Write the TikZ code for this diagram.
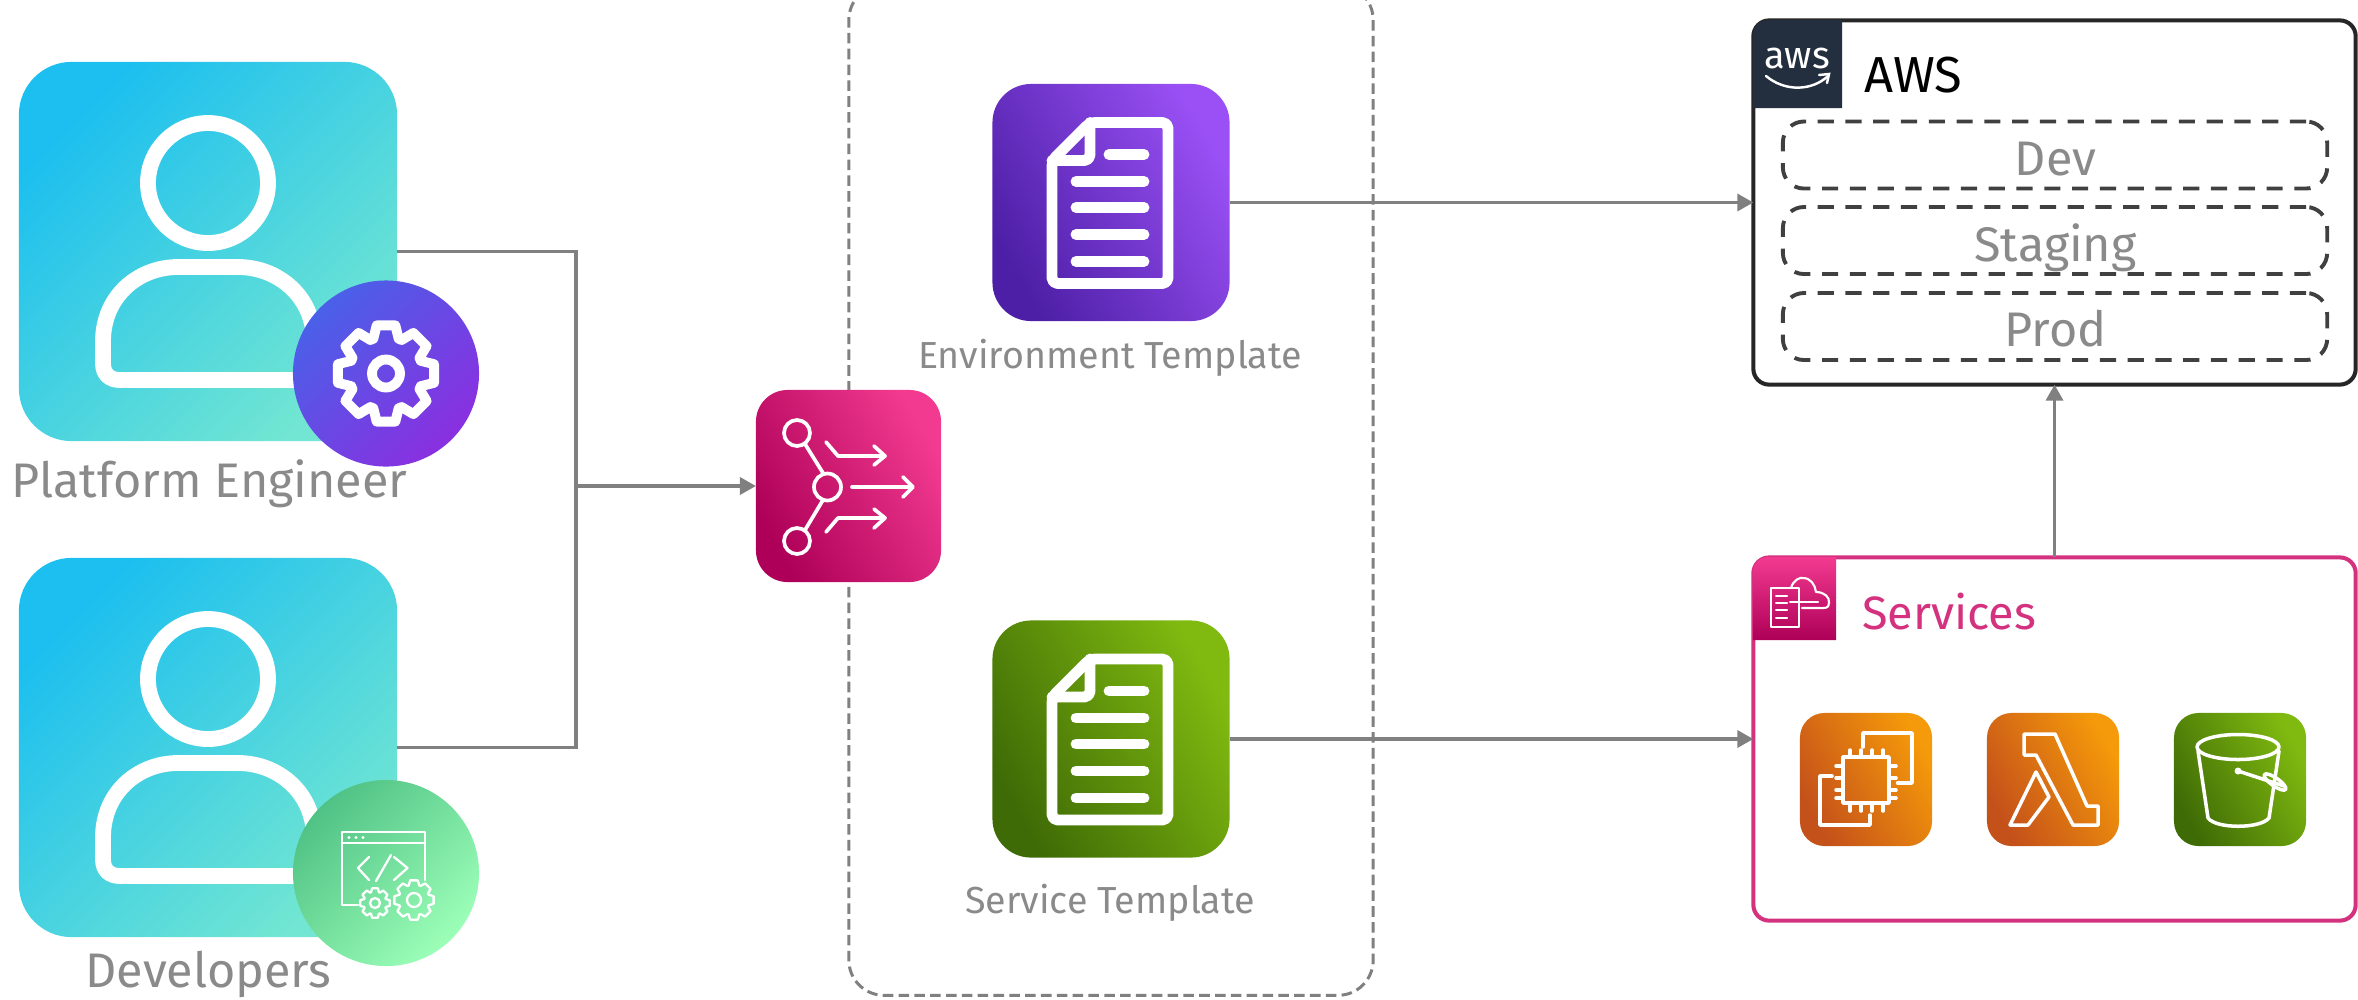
\documentclass[tikz,border=0pt]{standalone}
\usepackage{fontspec}
\setmainfont{Fira Sans}
\usetikzlibrary{arrows.meta}
\definecolor{linegray}{HTML}{808080}
\definecolor{textgray}{HTML}{8A8A8A}
\definecolor{awsdark}{HTML}{232F3E}
\definecolor{svcpink}{HTML}{D4317F}
\definecolor{tealhi}{HTML}{1CBFEF}
\definecolor{teallo}{HTML}{72E6D2}
\definecolor{purplelo}{HTML}{4D1FA6}
\definecolor{purplehi}{HTML}{9A50F5}
\definecolor{pinklo}{HTML}{AE0058}
\definecolor{pinkhi}{HTML}{F23A90}
\definecolor{greenlo}{HTML}{3F6B06}
\definecolor{greenhi}{HTML}{80BA10}
\definecolor{orangelo}{HTML}{C4501A}
\definecolor{orangehi}{HTML}{F59A0A}
\definecolor{gearlo}{HTML}{8A2FE0}
\definecolor{gearhi}{HTML}{4A60E8}
\definecolor{codelo}{HTML}{9CFFB8}
\definecolor{codehi}{HTML}{50C285}
\tikzset{
  conn/.style={draw=linegray,line width=1pt},
  arrowconn/.style={conn,-{Triangle[length=1.6mm,width=1.7mm]}},
  tile/.style 2 args={rectangle,inner sep=0pt,outer sep=0pt,top color=#1,bottom color=#2,shading angle=120},
  bigtile/.style 2 args={tile={#1}{#2},rounded corners=11pt,minimum width=2.37cm,minimum height=2.37cm},
  smalltile/.style 2 args={tile={#1}{#2},rounded corners=7pt,minimum width=1.32cm,minimum height=1.33cm},
  persontile/.style={rectangle,inner sep=0pt,outer sep=0pt,rounded corners=15pt,minimum width=3.78cm,minimum height=3.79cm,top color=tealhi,bottom color=teallo,shading angle=45},
  badge/.style 2 args={circle,inner sep=0pt,outer sep=0pt,minimum size=1.86cm,top color=#1,bottom color=#2,shading angle=45},
  biglbl/.style={font=\fontsize{13.8pt}{15pt}\selectfont,text=textgray,anchor=base,inner sep=0pt},
  tpllbl/.style={font=\fontsize{10.7pt}{12pt}\selectfont,text=textgray,anchor=base,inner sep=0pt},
  iconline/.style={draw=white,line width=#1,line cap=round,line join=round},
  iconline/.default=1pt,
  envbox/.style={draw=black!75,line width=1.1pt,dash pattern=on 4.6pt off 3.3pt,rounded corners=6pt,inner sep=0pt,minimum width=5.44cm,minimum height=0.67cm},
  groupbox/.style={rectangle,line width=1.15pt,rounded corners=4.5pt,inner sep=0pt,outer sep=0pt,minimum width=6.02cm}
}
\newcommand{\personicon}[1]{\begin{scope}[shift={(#1)}]
\draw[iconline=4.5pt] (0,-68.5) circle (60);
\draw[iconline=4.5pt] (106,128.5) -- (-88,128.5) .. controls (-99,128.5) and (-105,122) .. (-105,112) -- (-105,90) .. controls (-105,45) and (-70,15.5) .. (-30,15.5) -- (30,15.5) .. controls (70,15.5) and (106,45) .. (106,90) -- cycle;
\end{scope}}
\newcommand{\docicon}[1]{\begin{scope}[shift={(#1)},iconline=3.1pt]
\draw[rounded corners=1.6pt] (-59,-42) -- (-21,-80) -- (57,-80) -- (57,81) -- (-59,81) -- cycle;
\draw[rounded corners=1.6pt] (-21,-80) -- (-21,-42) -- (-59,-42);
\draw (-2,-48) -- (33,-48);
\foreach \ly in {-21,5,32,59} {\draw (-35,\ly) -- (33,\ly);}
\end{scope}}
\newcommand{\gearicon}[4]{\begin{scope}[shift={(#1)},iconline=#4]
\draw (-20:#3) \foreach \a in {0,45,...,315} { -- ({\a-20}:#3) -- ({\a-11}:#2) -- ({\a+11}:#2) -- ({\a+20}:#3)} -- cycle;
\end{scope}}
\begin{document}
\begin{tikzpicture}[x=0.01cm,y=-0.01cm,>=Stealth]
\path[use as bounding box,clip] (0,0) rectangle (2358,999);
% template group
\node[draw=linegray,line width=0.85pt,dash pattern=on 3pt off 1.5pt,rounded corners=10pt,minimum width=5.24cm,minimum height=10.1cm,inner sep=0pt] (tplgroup) at (1111,490) {};
% people
\node[persontile] (engineer) at (208,251.5) {};
\node[persontile] (developers) at (208,747.5) {};
\personicon{engineer}
\personicon{developers}
\node[biglbl] (englbl) at (209.5,497) {Platform Engineer};
\node[biglbl] (devlbl) at (208.5,987) {Developers};
% router and templates
\node[tile={pinklo}{pinkhi},rounded corners=9pt,minimum width=1.85cm,minimum height=1.92cm] (router) at (848.5,486) {};
\node[bigtile={purplelo}{purplehi}] (envtpl) at (1111,202.5) {};
\node[bigtile={greenlo}{greenhi}] (svctpl) at (1111,739) {};
\docicon{envtpl}
\docicon{svctpl}
\node[tpllbl] (envlbl) at (1110,368.5) {Environment Template};
\node[tpllbl] (svclbl) at (1110,913) {Service Template};
% aws and services
\node[groupbox,draw=black!85,fill=white,minimum height=3.64cm] (aws) at (2054.5,202.5) {};
\node[groupbox,draw=svcpink,fill=white,minimum height=3.63cm] (services) at (2054.5,739) {};
\fill[awsdark] (1842,108) -- (1753,108) -- (1753,36) .. controls (1753,26) and (1759,20) .. (1769,20) -- (1842,20) -- cycle;
\shade[top color=pinkhi,bottom color=pinklo] (1836,640) -- (1753,640) -- (1753,573) .. controls (1753,563) and (1759,557) .. (1769,557) -- (1836,557) -- cycle;
\node[font=\fontsize{14.4pt}{16pt}\selectfont,text=black,anchor=base,inner sep=0pt] (awslbl) at (1913,92) {AWS};
\node[font=\fontsize{13.3pt}{15pt}\selectfont,text=svcpink,anchor=base,inner sep=0pt] (svcname) at (1949,629) {Services};
\node[font=\fontsize{10.8pt}{12pt}\selectfont,text=white,anchor=base,inner sep=0pt] (awslogo) at (1797,68) {aws};
\draw[white,line width=0.7pt,line cap=round] (1766,76) .. controls (1785,92) and (1812,91) .. (1828,76);
\draw[white,line width=0.7pt,line cap=round] (1819,75) -- (1829,74) -- (1827,83);
\foreach \ename/\ey/\etext/\ebase in {devbox/155/Dev/175,stgbox/240.5/Staging/261,prodbox/326.5/Prod/346} {
  \node[envbox] (\ename) at (2055,\ey) {};
  \node[biglbl] (\ename lbl) at (2055.5,\ebase) {\etext};
}
% service tiles
\node[smalltile={orangelo}{orangehi}] (ec2) at (1866,779.5) {};
\node[smalltile={orangelo}{orangehi}] (lambda) at (2053,779.5) {};
\node[smalltile={greenlo}{greenhi}] (bucket) at (2240,779.5) {};
% connectors
\coordinate (junc) at (576,486);
\draw[conn] (engineer.east) -| (junc);
\draw[conn] (developers.east) -| (junc);
\draw[arrowconn] (junc) -- (router.west);
\draw[arrowconn] (envtpl.east) -- (aws.west);
\draw[arrowconn] (svctpl.east) -- (services.west);
\draw[arrowconn] (services.north) -- (aws.south);
% badges
\node[badge={gearhi}{gearlo}] (gearbadge) at (386,373.5) {};
\node[badge={codehi}{codelo}] (codebadge) at (386,873) {};
\gearicon{gearbadge}{49}{37}{2.8pt}
\draw[iconline=2.8pt] (gearbadge) circle (14);
\draw[iconline=0.65pt] (358,905) -- (342,905) -- (342,832) -- (425,832) -- (425,880);
\draw[iconline=0.65pt] (342,843) -- (425,843);
\foreach \dx in {349,356,363} {\fill[white] (\dx,837.5) circle (1.6);}
\draw[iconline=0.65pt] (369,857) -- (358,868) -- (369,880);
\draw[iconline=0.65pt] (394,857) -- (407.5,868) -- (394,880);
\draw[iconline=0.65pt] (391,855) -- (376,881);
\coordinate (smallgear) at (375,903);
\coordinate (largegear) at (414,900);
\gearicon{smallgear}{15}{11.5}{0.65pt}
\gearicon{largegear}{20}{15.5}{0.65pt}
\draw[iconline=0.65pt] (smallgear) circle (5);
\draw[iconline=0.65pt] (largegear) circle (7);
% router icon
\draw[iconline=1.05pt] (797,433) circle (13);
\draw[iconline=1.05pt] (827.5,487) circle (13.5);
\draw[iconline=1.05pt] (797,541) circle (13);
\draw[iconline=1.05pt] (805,444) -- (823,473);
\draw[iconline=1.05pt] (805,530) -- (823,500);
\draw[iconline=1.05pt] (826,442) -- (838,456) -- (883,456);
\draw[iconline=1.05pt] (874,446) -- (885,456) -- (874,465);
\draw[iconline=1.05pt] (852,487) -- (912,487);
\draw[iconline=1.05pt] (903,477) -- (913,487) -- (903,497);
\draw[iconline=1.05pt] (826,532) -- (838,518) -- (883,518);
\draw[iconline=1.05pt] (874,509) -- (885,518) -- (874,528);
% services header icon
\draw[iconline=0.6pt] (1771,588) rectangle (1799,627);
\foreach \hy in {596,603,610,618} {\draw[iconline=0.6pt] (1776,\hy) -- (1787,\hy);}
\draw[iconline=0.6pt] (1790,602) -- (1818,602);
\draw[iconline=0.6pt] (1791,588) .. controls (1793,580) and (1800,577) .. (1803,578) .. controls (1811,578) and (1815,585) .. (1816,592) .. controls (1824,592) and (1830,597) .. (1829,603) .. controls (1829,609) and (1824,608) .. (1818,608) -- (1802,608);
% ec2
\draw[iconline] (1843,757) rectangle (1889,803);
\draw[iconline] (1863,747) -- (1863,733) -- (1912,733) -- (1912,783) -- (1897.5,783);
\draw[iconline] (1832,776) -- (1820,776) -- (1820,825) -- (1870,825) -- (1870,815);
\foreach \px in {1850,1861,1872,1883} {\draw[iconline] (\px,750) -- (\px,757); \draw[iconline] (\px,803) -- (\px,811);}
\foreach \py in {766,778,790,798} {\draw[iconline] (1836,\py) -- (1843,\py); \draw[iconline] (1889,\py) -- (1896,\py);}
% lambda
\draw[iconline] (2024,734) -- (2055,734) -- (2087,806) -- (2098,806) -- (2098,825) -- (2073,825) -- (2036,755) -- (2024,755) -- cycle;
\draw[iconline] (2036,772) -- (2049,797) -- (2028,825) -- (2010,825) -- cycle;
% bucket
\draw[iconline] (2238,747) ellipse (41 and 12.5);
\draw[iconline] (2198,751) -- (2208,818) .. controls (2216,829) and (2260,829) .. (2269,818) -- (2279,751);
\fill[white] (2238,771) circle (3.5);
\draw[iconline] (2238,771) -- (2284,786);
\draw[iconline,rotate around={-35:(2275,782)}] (2275,782) ellipse (13 and 4);
\end{tikzpicture}
\end{document}
